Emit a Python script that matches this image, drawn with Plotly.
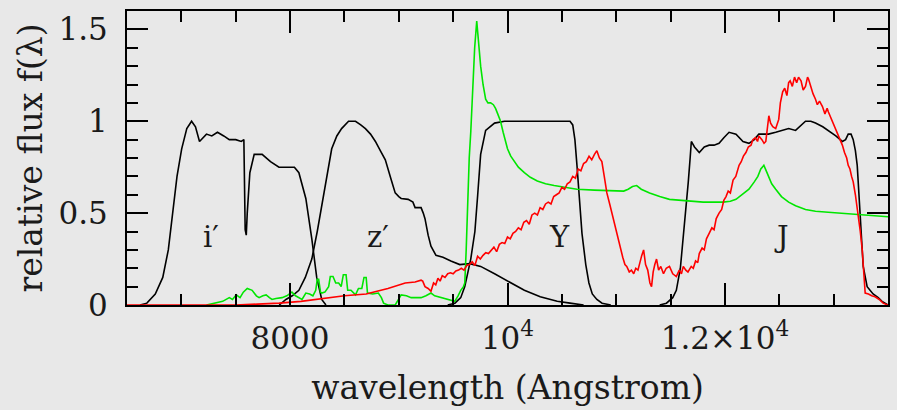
import plotly.graph_objects as go

# ---------------- data ----------------
wl_i = [6620, 6683, 6760, 6829, 6880, 6920, 6960, 7003, 7050, 7094, 7130, 7167, 7200, 7231, 7280, 7332,
        7390, 7441, 7500, 7551, 7575, 7587, 7597, 7606, 7630, 7670, 7743, 7820, 7898, 7990, 8040, 8081,
        8145, 8200, 8245, 8291, 8330]
f_i = [0, 0.01, 0.06, 0.15, 0.3, 0.5, 0.7, 0.85, 0.96, 1.0, 0.97, 0.89, 0.91, 0.93, 0.92, 0.94,
       0.92, 0.9, 0.9, 0.89, 0.9, 0.41, 0.38, 0.5, 0.72, 0.82, 0.82, 0.78, 0.75, 0.75, 0.75, 0.72,
       0.58, 0.36, 0.15, 0.03, 0]

wl_z = [7900, 7962, 8020, 8081, 8140, 8200, 8250, 8291, 8340, 8383, 8430, 8474, 8538, 8602, 8650, 8693,
        8740, 8785, 8830, 8876, 8931, 8967, 9000, 9022, 9086, 9130, 9150, 9205, 9225, 9241, 9270, 9296,
        9342, 9406, 9479, 9561, 9653, 9753, 9881, 10000, 10155, 10301, 10457, 10575, 10700]
f_z = [0, 0.03, 0.05, 0.08, 0.15, 0.25, 0.4, 0.54, 0.72, 0.85, 0.92, 0.96, 1.0, 1.0, 0.98, 0.96,
       0.93, 0.89, 0.84, 0.79, 0.68, 0.61, 0.59, 0.58, 0.575, 0.56, 0.53, 0.53, 0.5, 0.47, 0.38, 0.32,
       0.27, 0.26, 0.24, 0.22, 0.225, 0.21, 0.17, 0.13, 0.08, 0.045, 0.02, 0.01, 0]

wl_Y = [9450, 9516, 9570, 9607, 9662, 9700, 9726, 9753, 9799, 9881, 9972, 10100, 10301, 10575, 10600,
        10620, 10639, 10660, 10685, 10720, 10749, 10780, 10822, 10870, 10950]
f_Y = [0, 0.01, 0.04, 0.1, 0.25, 0.4, 0.6, 0.82, 0.95, 0.99, 1.0, 1.0, 1.0, 1.0, 0.98,
       0.9, 0.76, 0.58, 0.39, 0.22, 0.12, 0.06, 0.03, 0.01, 0]

wl_J = [11400, 11462, 11520, 11553, 11590, 11617, 11640, 11663, 11680, 11691, 11720, 11764, 11810, 11855,
        11900, 11946, 11990, 12038, 12102, 12166, 12221, 12270, 12312, 12400, 12467, 12530, 12586, 12650,
        12700, 12741, 12790, 12833, 12900, 12952, 13020, 13080, 13110, 13134, 13160, 13180, 13200, 13217,
        13244, 13272, 13308, 13363, 13410, 13445, 13500]
f_J = [0, 0.01, 0.04, 0.08, 0.2, 0.36, 0.52, 0.67, 0.8, 0.89, 0.86, 0.83, 0.86, 0.87,
       0.87, 0.88, 0.91, 0.94, 0.93, 0.89, 0.88, 0.9, 0.93, 0.93, 0.94, 0.95, 0.96, 0.95,
       0.98, 1.0, 1.0, 0.99, 0.97, 0.95, 0.92, 0.89, 0.9, 0.93, 0.93, 0.9, 0.84, 0.76,
       0.48, 0.21, 0.1, 0.06, 0.04, 0.02, 0.0]

wl_green = [7231, 7300, 7380, 7441, 7470, 7505, 7540, 7570, 7606, 7630, 7651, 7690, 7715, 7750, 7780, 7810,
            7834, 7870, 7926, 7970, 8017, 8050, 8081, 8110, 8145, 8180, 8210, 8236, 8250, 8263, 8280, 8291,
            8320, 8355, 8370, 8395, 8420, 8447, 8470, 8490, 8515, 8530, 8560, 8602, 8629, 8660, 8680, 8700,
            8712, 8760, 8812, 8840, 8860, 8900, 8967, 9000, 9022, 9070, 9114, 9160, 9205, 9250, 9296, 9330,
            9360, 9400, 9451, 9490, 9515, 9545, 9570, 9595, 9607, 9620, 9634, 9648, 9662, 9680, 9698, 9717,
            9735, 9753, 9775, 9799, 9820, 9845, 9870, 9890, 9910, 9936, 9960, 9980, 10000, 10030, 10064, 10100,
            10155, 10210, 10274, 10350, 10429, 10548, 10639, 10800, 10950, 11069, 11110, 11150, 11188, 11230,
            11307, 11400, 11490, 11580, 11672, 11800, 11983, 12050, 12102, 12160, 12221, 12270, 12303, 12330,
            12358, 12380, 12404, 12430, 12467, 12520, 12586, 12650, 12741, 12833, 12950, 13080, 13263, 13500]
f_green = [0.0, 0.01, 0.02, 0.04, 0.03, 0.055, 0.04, 0.07, 0.09, 0.085, 0.08, 0.05, 0.04, 0.05, 0.055, 0.04,
           0.03, 0.035, 0.04, 0.05, 0.07, 0.05, 0.04, 0.03, 0.065, 0.06, 0.05, 0.08, 0.14, 0.14, 0.07, 0.065,
           0.07, 0.10, 0.155, 0.155, 0.12, 0.12, 0.10, 0.165, 0.165, 0.08, 0.08, 0.055, 0.09, 0.09, 0.15, 0.15,
           0.065, 0.06, 0.065, 0.04, 0.01, 0.0, 0.0, 0.03, 0.055, 0.05, 0.04, 0.04, 0.04, 0.05, 0.065, 0.05,
           0.045, 0.035, 0.03, 0.02, 0.02, 0.05, 0.08, 0.10, 0.12, 0.3, 0.575, 0.8, 0.94, 1.2, 1.40, 1.545,
           1.42, 1.30, 1.2, 1.12, 1.10, 1.10, 1.09, 1.07, 1.04, 1.0, 0.94, 0.89, 0.85, 0.81, 0.78, 0.75,
           0.72, 0.695, 0.675, 0.66, 0.65, 0.64, 0.63, 0.625, 0.62, 0.62, 0.63, 0.645, 0.65, 0.63,
           0.61, 0.59, 0.575, 0.57, 0.565, 0.56, 0.56, 0.565, 0.575, 0.6, 0.63, 0.67, 0.70, 0.74,
           0.76, 0.73, 0.70, 0.66, 0.63, 0.59, 0.56, 0.54, 0.52, 0.51, 0.505, 0.50, 0.49, 0.48]

wl_red = [6500, 7500, 7700, 7900, 8100, 8300, 8500, 8700, 8900, 9059, 9150, 9205, 9220, 9241, 9270, 9296,
          9320, 9340, 9360, 9380, 9400, 9425, 9450, 9475, 9500, 9525, 9550, 9575, 9600, 9625, 9650, 9675,
          9700, 9725, 9750, 9775, 9800, 9825, 9850, 9875, 9900, 9925, 9950, 9975, 10000, 10025, 10050, 10075,
          10100, 10125, 10150, 10175, 10200, 10225, 10250, 10275, 10300, 10325, 10350, 10375, 10400, 10425,
          10450, 10475, 10500, 10525, 10550, 10575, 10600, 10625, 10650, 10675, 10700, 10725, 10750, 10775,
          10800, 10822, 10845, 10868, 10890, 10914, 10940, 10960, 10978, 11000, 11020, 11040, 11060, 11080,
          11097, 11120, 11140, 11161, 11180, 11200, 11216, 11235, 11252, 11270, 11290, 11310, 11325, 11340,
          11355, 11371, 11390, 11410, 11435, 11460, 11490, 11520, 11553, 11580, 11600, 11617, 11640, 11660,
          11690, 11709, 11730, 11750, 11764, 11790, 11810, 11830, 11855, 11880, 11900, 11920, 11946, 11970,
          11990, 12010, 12030, 12050, 12075, 12100, 12130, 12150, 12170, 12193, 12215, 12240, 12257, 12280,
          12300, 12312, 12340, 12360, 12376, 12390, 12404, 12420, 12440, 12467, 12480, 12495, 12510, 12531,
          12550, 12570, 12586, 12600, 12620, 12640, 12660, 12677, 12700, 12720, 12741, 12760, 12769, 12790,
          12810, 12833, 12850, 12870, 12897, 12920, 12940, 12952, 12980, 13000, 13016, 13040, 13060, 13080,
          13100, 13120, 13134, 13150, 13165, 13180, 13200, 13226, 13245, 13263, 13280, 13290, 13320, 13350,
          13381, 13420, 13455, 13500]
f_red = [0, 0.0, 0.005, 0.01, 0.02, 0.035, 0.05, 0.06, 0.09, 0.12, 0.125, 0.135, 0.13, 0.1, 0.09, 0.075,
         0.12, 0.11, 0.145, 0.13, 0.16, 0.15, 0.17, 0.175, 0.17, 0.185, 0.19, 0.2, 0.19, 0.215, 0.22, 0.235,
         0.215, 0.265, 0.25, 0.27, 0.285, 0.28, 0.30, 0.315, 0.29, 0.33, 0.34, 0.335, 0.37, 0.36, 0.39, 0.40,
         0.42, 0.41, 0.45, 0.46, 0.44, 0.49, 0.50, 0.49, 0.53, 0.52, 0.55, 0.56, 0.55, 0.59,
         0.6, 0.61, 0.64, 0.63, 0.66, 0.67, 0.70, 0.69, 0.74, 0.73, 0.77, 0.78, 0.81, 0.79,
         0.82, 0.84, 0.80, 0.78, 0.70, 0.61, 0.55, 0.50, 0.46, 0.40, 0.36, 0.30, 0.26, 0.22,
         0.21, 0.18, 0.19, 0.17, 0.2, 0.19, 0.23, 0.27, 0.30, 0.22, 0.19, 0.12, 0.10, 0.18,
         0.22, 0.25, 0.19, 0.21, 0.17, 0.2, 0.21, 0.17, 0.155, 0.19, 0.17, 0.21, 0.19, 0.18,
         0.21, 0.2, 0.24, 0.23, 0.28, 0.31, 0.30, 0.36, 0.39, 0.42, 0.41, 0.47, 0.50, 0.52,
         0.57, 0.59, 0.62, 0.61, 0.68, 0.70, 0.76, 0.78, 0.81, 0.83, 0.86, 0.87, 0.90, 0.91,
         0.89, 0.92, 0.90, 0.88, 0.89, 0.96, 1.03, 0.99, 0.97, 0.96, 0.98, 1.01, 1.10, 1.16,
         1.18, 1.14, 1.21, 1.22, 1.19, 1.24, 1.21, 1.24, 1.22, 1.17, 1.19, 1.24, 1.23, 1.19,
         1.15, 1.12, 1.09, 1.11, 1.08, 1.04, 1.07, 1.05, 1.01, 0.98, 0.96, 0.92, 0.90, 0.87,
         0.83, 0.80, 0.76, 0.74, 0.70, 0.67, 0.60, 0.50, 0.40, 0.30, 0.15, 0.065, 0.06, 0.05,
         0.045, 0.03, 0.01, 0.0]

filter_names = ["i\u2032", "z\u2032", "Y", "J"]
filter_label_x = [7277, 8812, 10475, 12523]
filter_label_y = [0.37, 0.37, 0.37, 0.37]

x_tickvals = [8000, 10000, 12000]
x_ticktext = ["8000", "10<sup>4</sup>", "1.2\u00d710<sup>4</sup>"]
y_tickvals = [0, 0.5, 1, 1.5]
y_ticktext = ["0", "0.5", "1", "1.5"]

# ---------------- figure ----------------
FONT = "DejaVu Serif"
BG = "#e8e8e8"
TXT = "#1a1a1a"

fig = go.Figure()
for wl, f in [(wl_i, f_i), (wl_z, f_z), (wl_Y, f_Y), (wl_J, f_J)]:
    fig.add_trace(go.Scatter(x=wl, y=f, mode="lines", line=dict(color="black", width=1.6),
                             hoverinfo="skip", showlegend=False))
fig.add_trace(go.Scatter(x=wl_green, y=f_green, mode="lines", line=dict(color="#00e600", width=1.6),
                         showlegend=False))
fig.add_trace(go.Scatter(x=wl_red, y=f_red, mode="lines", line=dict(color="#ff0000", width=1.6),
                         showlegend=False))

for name, lx, ly in zip(filter_names, filter_label_x, filter_label_y):
    fig.add_annotation(x=lx, y=ly, text=name, showarrow=False,
                       font=dict(family=FONT, size=29, color=TXT))

axis_common = dict(showline=True, linecolor="black", linewidth=2, mirror="ticks",
                   ticks="inside", tickcolor="black", tickwidth=1.6,
                   showgrid=False, zeroline=False, automargin=False,
                   tickfont=dict(family=FONT, size=31, color=TXT))

fig.update_xaxes(range=[6500, 13500], tickvals=x_tickvals, ticktext=x_ticktext, ticklen=22,
                 minor=dict(dtick=500, tick0=6500, ticklen=11, ticks="inside", tickcolor="black", tickwidth=1.6),
                 title=dict(text="wavelength (Angstrom)", font=dict(family=FONT, size=33, color=TXT),
                            standoff=21),
                 ticklabelstandoff=5, **axis_common)
fig.update_yaxes(range=[0, 1.6], tickvals=y_tickvals, ticktext=y_ticktext, ticklen=21,
                 minor=dict(dtick=0.1, tick0=0, ticklen=11, ticks="inside", tickcolor="black", tickwidth=1.6),
                 title=dict(text="relative flux f(\u03bb)", font=dict(family=FONT, size=33, color=TXT),
                            standoff=6),
                 ticklabelstandoff=11, **axis_common)

fig.update_layout(width=897, height=410, paper_bgcolor=BG, plot_bgcolor=BG,
                  margin=dict(l=127, r=9, t=11, b=105), showlegend=False)

fig.write_html("out.html", config={"displayModeBar": False},
               post_script="document.body.style.margin='0px';document.body.style.background='#e8e8e8';")
